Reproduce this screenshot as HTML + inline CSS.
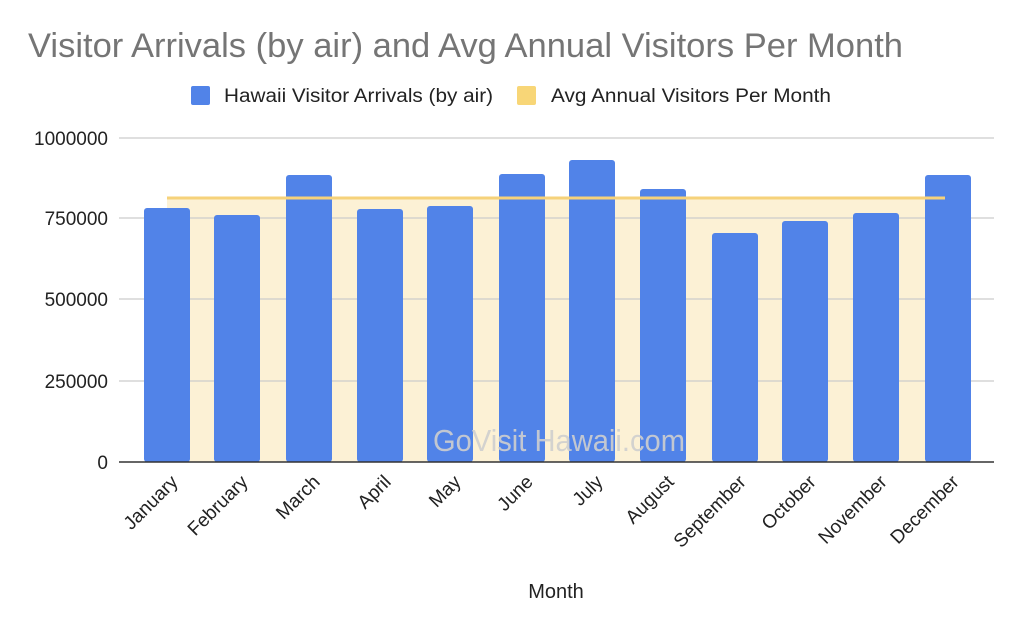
<!DOCTYPE html>
<html><head><style>body{margin:0;background:#fff}svg{display:block}</style></head><body>
<svg width="1024" height="628" xmlns="http://www.w3.org/2000/svg" font-family="Liberation Sans, Arial, sans-serif">
<text x="28" y="57" font-size="34" fill="#757575" textLength="875" lengthAdjust="spacingAndGlyphs">Visitor Arrivals (by air) and Avg Annual Visitors Per Month</text>
<rect x="191" y="86" width="19" height="19" rx="2" fill="#5183e8"/>
<text x="224" y="102" font-size="19" fill="#222" textLength="269" lengthAdjust="spacingAndGlyphs">Hawaii Visitor Arrivals (by air)</text>
<rect x="517" y="86" width="19" height="19" rx="2" fill="#f8d677"/>
<text x="551" y="102" font-size="19" fill="#222" textLength="280" lengthAdjust="spacingAndGlyphs">Avg Annual Visitors Per Month</text>
<rect x="167" y="198" width="778" height="264" fill="#fcf1d5"/>
<g stroke="#ccc" stroke-width="1.2">
<line x1="119" x2="994" y1="138" y2="138"/><line x1="119" x2="994" y1="218" y2="218"/><line x1="119" x2="994" y1="299" y2="299"/><line x1="119" x2="994" y1="381" y2="381"/>
</g>
<g font-size="19" fill="#222" text-anchor="end">
<text x="108" y="145">1000000</text><text x="108" y="225">750000</text><text x="108" y="306">500000</text><text x="108" y="388">250000</text><text x="108" y="469">0</text>
</g>
<g fill="#5183e8">
<rect x="144" y="208" width="46" height="254" rx="3"/>
<rect x="214" y="215" width="46" height="247" rx="3"/>
<rect x="286" y="175" width="46" height="287" rx="3"/>
<rect x="357" y="209" width="46" height="253" rx="3"/>
<rect x="427" y="206" width="46" height="256" rx="3"/>
<rect x="499" y="174" width="46" height="288" rx="3"/>
<rect x="569" y="160" width="46" height="302" rx="3"/>
<rect x="640" y="189" width="46" height="273" rx="3"/>
<rect x="712" y="233" width="46" height="229" rx="3"/>
<rect x="782" y="221" width="46" height="241" rx="3"/>
<rect x="853" y="213" width="46" height="249" rx="3"/>
<rect x="925" y="175" width="46" height="287" rx="3"/>
</g>
<line x1="167" x2="945" y1="198" y2="198" stroke="#f6d27a" stroke-width="3"/>
<line x1="119" x2="994" y1="462" y2="462" stroke="#333" stroke-width="1.5"/>
<text x="433" y="451" font-size="31" fill="#cfcfcf" opacity="0.9" textLength="252" lengthAdjust="spacingAndGlyphs">GoVisit Hawaii.com</text>
<g font-size="19" fill="#222" text-anchor="end">
<text transform="translate(179,483) rotate(-45)">January</text>
<text transform="translate(249,483) rotate(-45)">February</text>
<text transform="translate(321,483) rotate(-45)">March</text>
<text transform="translate(392,483) rotate(-45)">April</text>
<text transform="translate(462,483) rotate(-45)">May</text>
<text transform="translate(534,483) rotate(-45)">June</text>
<text transform="translate(604,483) rotate(-45)">July</text>
<text transform="translate(675,483) rotate(-45)">August</text>
<text transform="translate(747,483) rotate(-45)">September</text>
<text transform="translate(817,483) rotate(-45)">October</text>
<text transform="translate(888,483) rotate(-45)">November</text>
<text transform="translate(960,483) rotate(-45)">December</text>
</g>
<text x="556" y="598" font-size="20" fill="#222" text-anchor="middle">Month</text>
</svg>
</body></html>
